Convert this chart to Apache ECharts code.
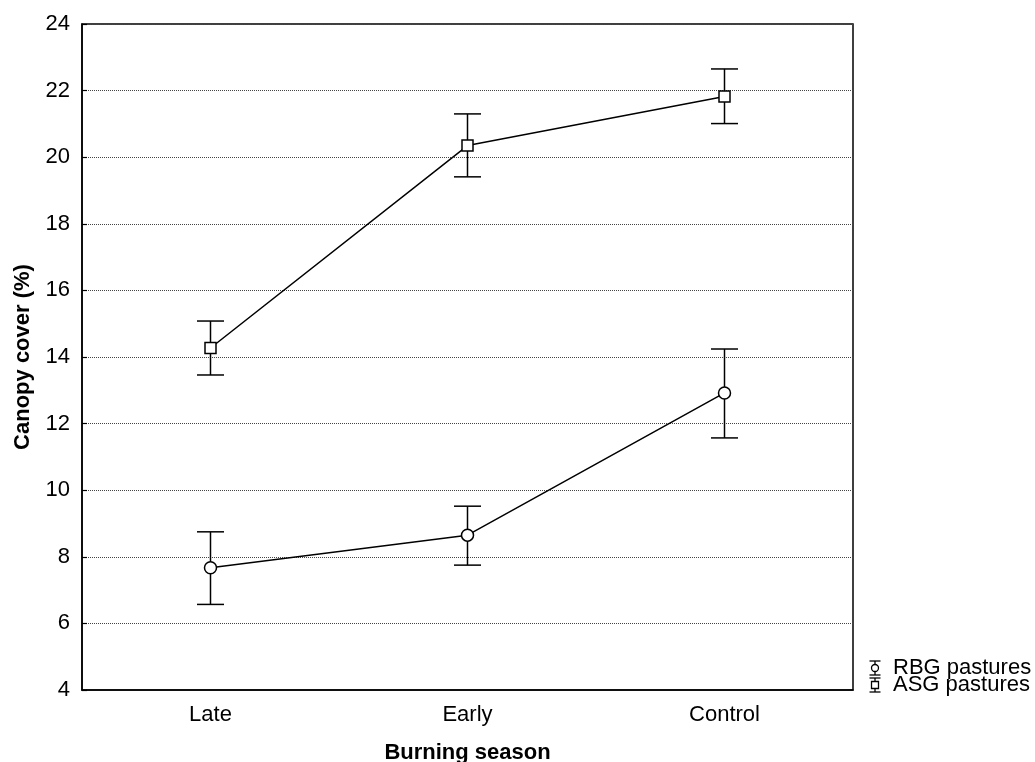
<!DOCTYPE html>
<html>
<head>
<meta charset="utf-8">
<script src="https://cdn.jsdelivr.net/npm/echarts@6/dist/echarts.min.js"></script>
<style>
html,body{margin:0;padding:0;background:#fff;}
#chart{width:1035px;height:762px;}
</style>
</head>
<body>
<div id="chart"></div>
<script>
const categories = ['Late', 'Early', 'Control'];
const rbgMean = [7.67, 8.65, 12.92];
const rbgLow  = [6.57, 7.75, 11.57];
const rbgHigh = [8.75, 9.52, 14.24];
const asgMean = [14.27, 20.35, 21.82];
const asgLow  = [13.46, 19.41, 21.01];
const asgHigh = [15.08, 21.30, 22.65];
const yTicks = [4, 24, 2];

const FONT = 'Liberation Sans, Arial, sans-serif';

function errData(low, high) {
  return categories.map((c, i) => [i, low[i], high[i]]);
}
function errRender(params, api) {
  const x = api.value(0);
  const lo = api.coord([x, api.value(1)]);
  const hi = api.coord([x, api.value(2)]);
  const hw = 13.5;
  const style = { stroke: '#000', lineWidth: 1.5 };
  return {
    type: 'group',
    children: [
      { type: 'line', shape: { x1: lo[0], y1: lo[1], x2: hi[0], y2: hi[1] }, style },
      { type: 'line', shape: { x1: lo[0] - hw, y1: lo[1], x2: lo[0] + hw, y2: lo[1] }, style },
      { type: 'line', shape: { x1: hi[0] - hw, y1: hi[1], x2: hi[0] + hw, y2: hi[1] }, style }
    ]
  };
}

const chart = echarts.init(document.getElementById('chart'));

function legendItem(y, isCircle, label) {
  const st = { stroke: '#000', lineWidth: 1.3 };
  const cx = 875;
  const children = [
    { type: 'line', shape: { x1: cx, y1: y - 7, x2: cx, y2: y + 7 }, style: st, z: 10 },
    { type: 'line', shape: { x1: cx - 5.5, y1: y - 7, x2: cx + 5.5, y2: y - 7 }, style: st, z: 10 },
    { type: 'line', shape: { x1: cx - 5.5, y1: y + 7, x2: cx + 5.5, y2: y + 7 }, style: st, z: 10 },
    isCircle
      ? { type: 'circle', shape: { cx: cx, cy: y, r: 3.5 }, style: { stroke: '#000', lineWidth: 1.3, fill: '#fff' }, z: 11 }
      : { type: 'rect', shape: { x: cx - 3.5, y: y - 3.5, width: 7, height: 7 }, style: { stroke: '#000', lineWidth: 1.3, fill: '#fff' }, z: 11 },
    { type: 'text', style: { x: 893, y: y, text: label, font: '22px ' + FONT, fill: '#000', verticalAlign: 'middle', textVerticalAlign: 'middle' }, z: 10 }
  ];
  return { type: 'group', children };
}

chart.setOption({
  animation: false,
  backgroundColor: '#fff',
  grid: { left: 82, top: 24, width: 771, height: 666, show: true, borderColor: '#000', borderWidth: 1.5, containLabel: false, outerBoundsMode: 'none' },
  xAxis: {
    type: 'category',
    data: categories,
    name: 'Burning season',
    nameLocation: 'middle',
    nameGap: 52,
    nameTextStyle: { fontFamily: FONT, fontSize: 22, fontWeight: 'bold', color: '#000' },
    axisLine: { lineStyle: { color: '#000', width: 1.5 } },
    axisTick: { inside: true, length: 5, alignWithLabel: true, lineStyle: { color: '#000', width: 1.2 } },
    axisLabel: { fontFamily: FONT, fontSize: 22, color: '#000', margin: 14 },
    splitLine: { show: false }
  },
  yAxis: {
    type: 'value',
    min: yTicks[0], max: yTicks[1], interval: yTicks[2],
    name: 'Canopy cover (%)',
    nameLocation: 'middle',
    nameGap: 48,
    nameTextStyle: { fontFamily: FONT, fontSize: 22, fontWeight: 'bold', color: '#000' },
    axisLine: { show: true, lineStyle: { color: '#000', width: 1.5 } },
    axisTick: { show: true, inside: true, length: 5, lineStyle: { color: '#000', width: 1.2 } },
    axisLabel: { fontFamily: FONT, fontSize: 22, color: '#000', margin: 12 },
    splitLine: { show: true, lineStyle: { color: '#444', width: 1, type: [1, 1] } }
  },
  series: [
    {
      name: 'RBG pastures', type: 'line', data: rbgMean,
      symbol: 'circle', symbolSize: 12,
      lineStyle: { color: '#000', width: 1.5 },
      itemStyle: { color: '#fff', borderColor: '#000', borderWidth: 1.5 },
      z: 5
    },
    {
      name: 'ASG pastures', type: 'line', data: asgMean,
      symbol: 'rect', symbolSize: 11,
      lineStyle: { color: '#000', width: 1.5 },
      itemStyle: { color: '#fff', borderColor: '#000', borderWidth: 1.5 },
      z: 5
    },
    { type: 'custom', data: errData(rbgLow, rbgHigh), renderItem: errRender, z: 3, encode: { x: 0, y: [1, 2] } },
    { type: 'custom', data: errData(asgLow, asgHigh), renderItem: errRender, z: 3, encode: { x: 0, y: [1, 2] } }
  ],
  graphic: [
    legendItem(668, true, 'RBG pastures'),
    legendItem(685, false, 'ASG pastures')
  ]
});
</script>
</body>
</html>
